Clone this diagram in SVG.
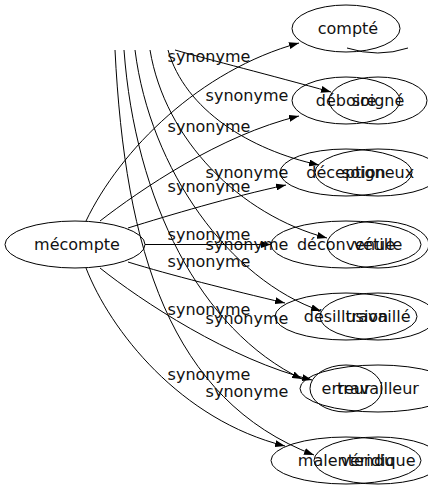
<svg xmlns="http://www.w3.org/2000/svg" width="428" height="491" viewBox="0 0 428 491">
<style>
text{font-family:"DejaVu Sans",sans-serif;font-size:16px;fill:#111;text-anchor:middle}
ellipse{fill:none;stroke:#000;stroke-width:1}
#edges path{fill:none;stroke:#000;stroke-width:1}
</style>
<defs><marker id="a" markerWidth="10" markerHeight="7" refX="10" refY="3.5" orient="auto" markerUnits="userSpaceOnUse"><path d="M0,0L10,3.5L0,7z" fill="#000"/></marker></defs>
<rect width="428" height="491" fill="#fff"/>
<g id="edges">
<path d="M86,221 C120,150 200,70 299,43" marker-end="url(#a)"/>
<path d="M100,221 C140,190 220,135 299,116" marker-end="url(#a)"/>
<path d="M128,228 C170,215 230,197 286,185" marker-end="url(#a)"/>
<path d="M145,244.5 L271,244.5" marker-end="url(#a)"/>
<path d="M128,262 C170,275 230,290 285,303" marker-end="url(#a)"/>
<path d="M100,268 C140,300 230,360 312,380" marker-end="url(#a)"/>
<path d="M86,268 C110,330 180,420 285,446" marker-end="url(#a)"/>
<path d="M175,50 C210,60 270,75 331,92" marker-end="url(#a)"/>
<path d="M168,50 C185,110 250,150 319,165" marker-end="url(#a)"/>
<path d="M150,50 C165,140 240,215 327,238" marker-end="url(#a)"/>
<path d="M135,50 C150,170 230,280 321,311" marker-end="url(#a)"/>
<path d="M124,50 C135,200 200,330 302,379" marker-end="url(#a)"/>
<path d="M115,50 C125,250 170,400 314,455" marker-end="url(#a)"/>
<path d="M347,48 Q378,58 408,48"/>
</g>
<g id="labels">
<text x="209" y="62">synonyme</text>
<text x="247" y="101">synonyme</text>
<text x="209" y="132">synonyme</text>
<text x="247" y="178">synonyme</text>
<text x="209" y="192">synonyme</text>
<text x="209" y="240">synonyme</text>
<text x="247" y="250">synonyme</text>
<text x="209" y="267">synonyme</text>
<text x="209" y="315">synonyme</text>
<text x="247" y="324">synonyme</text>
<text x="209" y="380">synonyme</text>
<text x="247" y="397">synonyme</text>
</g>
<g id="n-mecompte"><ellipse cx="75" cy="244.5" rx="70" ry="23.5"/><text x="77" y="250">mécompte</text></g>
<g id="n-compte"><ellipse cx="346" cy="28.5" rx="54" ry="23.5"/><text x="348" y="34">compté</text></g>
<g id="n-deboire"><ellipse cx="346" cy="100.5" rx="54" ry="23.5"/><text x="346" y="106">déboire</text></g>
<g id="n-soigne"><ellipse cx="378" cy="100.5" rx="49" ry="23.5"/><text x="378" y="106">soigné</text></g>
<g id="n-deception"><ellipse cx="346" cy="172.5" rx="66" ry="23.5"/><text x="346" y="178">déception</text></g>
<g id="n-soigneux"><ellipse cx="378" cy="172.5" rx="63" ry="23.5"/><text x="378" y="178">soigneux</text></g>
<g id="n-deconvenue"><ellipse cx="346" cy="244.5" rx="75" ry="23.5"/><text x="346" y="250">déconvenue</text></g>
<g id="n-vetille"><ellipse cx="378" cy="244.5" rx="51" ry="23.5"/><text x="378" y="250">vétille</text></g>
<g id="n-desillusion"><ellipse cx="346" cy="316.5" rx="71" ry="23.5"/><text x="346" y="322">désillusion</text></g>
<g id="n-travaille"><ellipse cx="378" cy="316.5" rx="58" ry="23.5"/><text x="378" y="322">travaillé</text></g>
<g id="n-erreur"><ellipse cx="346" cy="388.5" rx="36" ry="23.5"/><text x="346" y="394">erreur</text></g>
<g id="n-travailleur"><ellipse cx="378" cy="388.5" rx="78" ry="23.5"/><text x="378" y="394">travailleur</text></g>
<g id="n-malentendu"><ellipse cx="346" cy="460.5" rx="75" ry="23.5"/><text x="346" y="466">malentendu</text></g>
<g id="n-veridique"><ellipse cx="378" cy="460.5" rx="64" ry="23.5"/><text x="378" y="466">véridique</text></g>
</svg>
